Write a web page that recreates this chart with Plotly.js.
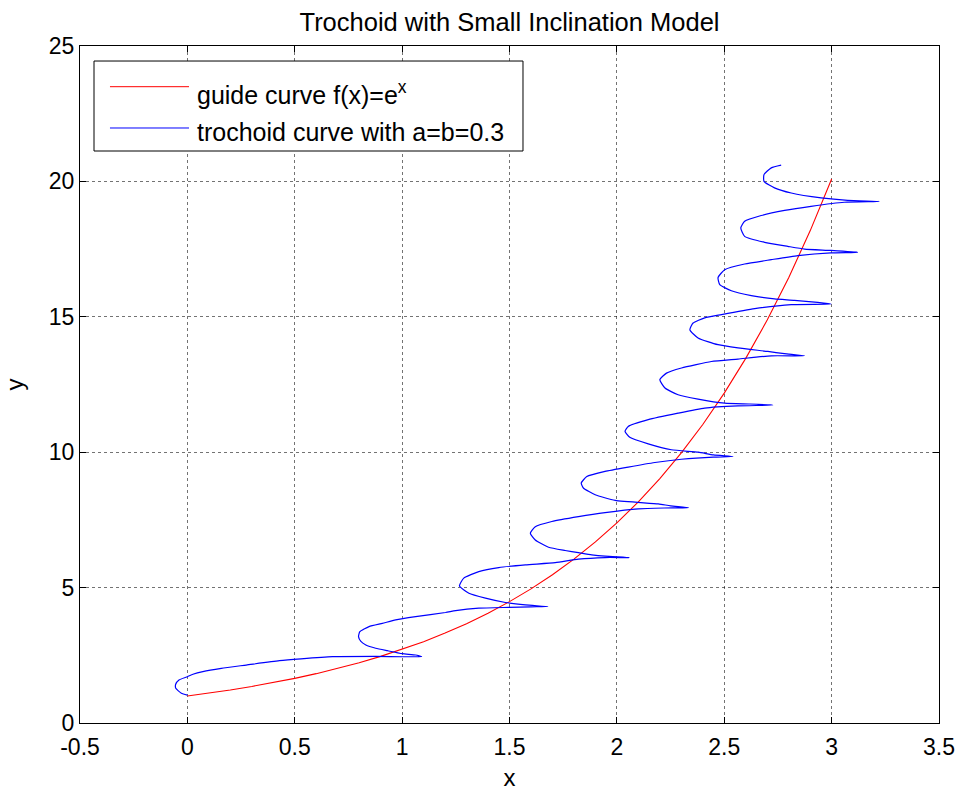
<!DOCTYPE html>
<html>
<head>
<meta charset="utf-8">
<script src="https://cdn.plot.ly/plotly-3.0.1.min.js"></script>
<style>
  html, body { margin: 0; padding: 0; background: #fff; }
  #chart { width: 960px; height: 791px; }
</style>
</head>
<body>
<div id="chart"></div>
<script>
// Guide curve f(x) = e^x, sampled every 0.1
const guideX = [0.0, 0.1, 0.2, 0.3, 0.4, 0.5, 0.6, 0.7, 0.8, 0.9, 1.0,
                1.1, 1.2, 1.3, 1.4, 1.5, 1.6, 1.7, 1.8, 1.9, 2.0,
                2.1, 2.2, 2.3, 2.4, 2.5, 2.6, 2.7, 2.8, 2.9, 3.0];
const guideY = [1.000, 1.105, 1.221, 1.350, 1.492, 1.649, 1.822, 2.014, 2.226, 2.460, 2.718,
                3.004, 3.320, 3.669, 4.055, 4.482, 4.953, 5.474, 6.050, 6.686, 7.389,
                8.166, 9.025, 9.974, 11.023, 12.182, 13.464, 14.880, 16.445, 18.174, 20.086];

// Trochoid winding along the guide curve (a = b = 0.3)
const trochoidX = [
  0.000, -0.028, -0.054, -0.054, -0.039, 0.000, 0.026, 0.072, 0.158, 0.274, 0.428, 0.529, 0.676, 0.877, 1.091,
  1.063, 1.001, 0.931, 0.877, 0.831, 0.808, 0.797, 0.803, 0.846, 0.908, 0.970, 1.063, 1.202, 1.249, 1.357, 1.496, 1.600, 1.679,
  1.574, 1.481, 1.388, 1.311, 1.267, 1.287, 1.357, 1.450, 1.574, 1.713, 1.821, 1.945, 2.057,
  1.945, 1.883, 1.821, 1.759, 1.682, 1.620, 1.597, 1.620, 1.697, 1.821, 1.945, 2.100, 2.220, 2.333,
  2.250, 2.193, 1.992, 1.899, 1.845, 1.834, 1.860, 1.945, 2.053, 2.177, 2.300, 2.450, 2.541,
  2.450, 2.379, 2.254, 2.146, 2.060, 2.038, 2.053, 2.146, 2.285, 2.409, 2.564, 2.727,
  2.620, 2.502, 2.378, 2.285, 2.224, 2.200, 2.231, 2.301, 2.440, 2.564, 2.719, 2.874,
  2.780, 2.703, 2.564, 2.471, 2.378, 2.340, 2.355, 2.409, 2.487, 2.642, 2.812, 2.997,
  2.935, 2.827, 2.734, 2.626, 2.533, 2.479, 2.471, 2.502, 2.595, 2.719, 2.843, 2.997, 3.121,
  2.997, 2.874, 2.796, 2.688, 2.595, 2.577, 2.595, 2.672, 2.781, 2.904, 3.059, 3.222,
  3.075, 2.951, 2.812, 2.734, 2.685, 2.685, 2.719, 2.765
];
const trochoidY = [
  1.03, 1.10, 1.28, 1.44, 1.59, 1.71, 1.80, 1.90, 2.02, 2.14, 2.30, 2.37, 2.45, 2.46, 2.45,
  2.51, 2.56, 2.67, 2.76, 2.88, 3.01, 3.19, 3.37, 3.56, 3.68, 3.81, 3.93, 4.08, 4.15, 4.24, 4.27, 4.29, 4.30,
  4.36, 4.45, 4.61, 4.79, 5.06, 5.35, 5.59, 5.74, 5.84, 5.92, 6.05, 6.11, 6.11,
  6.16, 6.21, 6.29, 6.37, 6.49, 6.76, 7.01, 7.25, 7.44, 7.62, 7.77, 7.91, 7.94, 7.95,
  8.02, 8.09, 8.22, 8.43, 8.67, 8.86, 9.10, 9.29, 9.45, 9.62, 9.74, 9.82, 9.84,
  9.90, 10.00, 10.09, 10.31, 10.55, 10.77, 10.95, 11.20, 11.44, 11.63, 11.71, 11.74,
  11.78, 11.81, 11.96, 12.12, 12.37, 12.68, 12.92, 13.11, 13.35, 13.44, 13.56, 13.56,
  13.64, 13.72, 13.85, 13.97, 14.22, 14.52, 14.77, 14.96, 15.08, 15.30, 15.45, 15.47,
  15.53, 15.61, 15.66, 15.78, 15.96, 16.19, 16.45, 16.74, 16.95, 17.11, 17.26, 17.36, 17.38,
  17.45, 17.50, 17.60, 17.75, 17.97, 18.28, 18.53, 18.74, 18.93, 19.08, 19.23, 19.26,
  19.30, 19.39, 19.57, 19.76, 20.00, 20.25, 20.50, 20.60
];

const xTickVals = [-0.5, 0, 0.5, 1, 1.5, 2, 2.5, 3, 3.5];
const xTickText = ['-0.5', '0', '0.5', '1', '1.5', '2', '2.5', '3', '3.5'];
const yTickVals = [0, 5, 10, 15, 20, 25];
const yTickText = ['0', '5', '10', '15', '20', '25'];

const seriesNames = ['guide curve f(x)=e<sup>x</sup>', 'trochoid curve with a=b=0.3'];
const seriesColors = ['#ff0000', '#0000ff'];

const FONT = '"Liberation Sans", Arial, Helvetica, sans-serif';

const traces = [
  { x: guideX, y: guideY, type: 'scatter', mode: 'lines', name: seriesNames[0],
    line: { color: seriesColors[0], width: 1.1 }, hoverinfo: 'x+y' },
  { x: trochoidX, y: trochoidY, type: 'scatter', mode: 'lines', name: seriesNames[1],
    line: { color: seriesColors[1], width: 1.2, shape: 'spline', smoothing: 0.5 }, hoverinfo: 'x+y' }
];

const axisCommon = {
  showline: true, linecolor: '#000', linewidth: 1, mirror: 'ticks',
  ticks: 'inside', ticklen: 6, tickcolor: '#000', tickwidth: 1,
  showgrid: true, gridcolor: 'rgba(0,0,0,0.55)', griddash: 'dot', gridwidth: 1,
  zeroline: false, tickmode: 'array',
  tickfont: { family: FONT, size: 23, color: '#000' }
};

// Legend panel drawn in paper coordinates, top-left of the axes
const legendBox = { x0: 0.0163, x1: 0.5157, y0: 0.8449, y1: 0.9778 };
const legendRows = [
  { y: 0.9399, ty: 0.9310 },
  { y: 0.8789, ty: 0.8730 }
];
const legendLine = { x0: 0.0349, x1: 0.1269, tx: 0.1340 };

const shapes = [
  { type: 'rect', xref: 'paper', yref: 'paper', layer: 'above',
    x0: legendBox.x0, x1: legendBox.x1, y0: legendBox.y0, y1: legendBox.y1,
    line: { color: '#000', width: 1 }, fillcolor: '#fff' }
];
const annotations = [];
legendRows.forEach((row, i) => {
  shapes.push({ type: 'line', xref: 'paper', yref: 'paper', layer: 'above',
    x0: legendLine.x0, x1: legendLine.x1, y0: row.y, y1: row.y,
    line: { color: seriesColors[i], width: 1 } });
  annotations.push({ xref: 'paper', yref: 'paper', x: legendLine.tx, y: row.ty,
    xanchor: 'left', yanchor: 'middle', showarrow: false, text: seriesNames[i],
    font: { family: FONT, size: 25, color: '#000' } });
});

const layout = {
  width: 960, height: 791,
  margin: { l: 80, r: 21, t: 46, b: 68, pad: 0 },
  paper_bgcolor: '#fff', plot_bgcolor: '#fff',
  showlegend: false,
  font: { family: FONT, color: '#000' },
  title: { text: 'Trochoid with Small Inclination Model', font: { family: FONT, size: 25.5, color: '#000' },
           x: 0.5, xref: 'paper', y: 0.972, yref: 'container', yanchor: 'middle' },
  xaxis: Object.assign({}, axisCommon, {
    range: [-0.5, 3.5], tickvals: xTickVals, ticktext: xTickText, ticklabelstandoff: 3,
    title: { text: 'x', font: { family: FONT, size: 24, color: '#000' }, standoff: 12 }
  }),
  yaxis: Object.assign({}, axisCommon, {
    range: [0, 25], tickvals: yTickVals, ticktext: yTickText,
    title: { text: 'y', font: { family: FONT, size: 24, color: '#000' }, standoff: 18 }
  }),
  shapes: shapes,
  annotations: annotations
};

Plotly.newPlot('chart', traces, layout, { displayModeBar: false, staticPlot: true });
</script>
</body>
</html>
